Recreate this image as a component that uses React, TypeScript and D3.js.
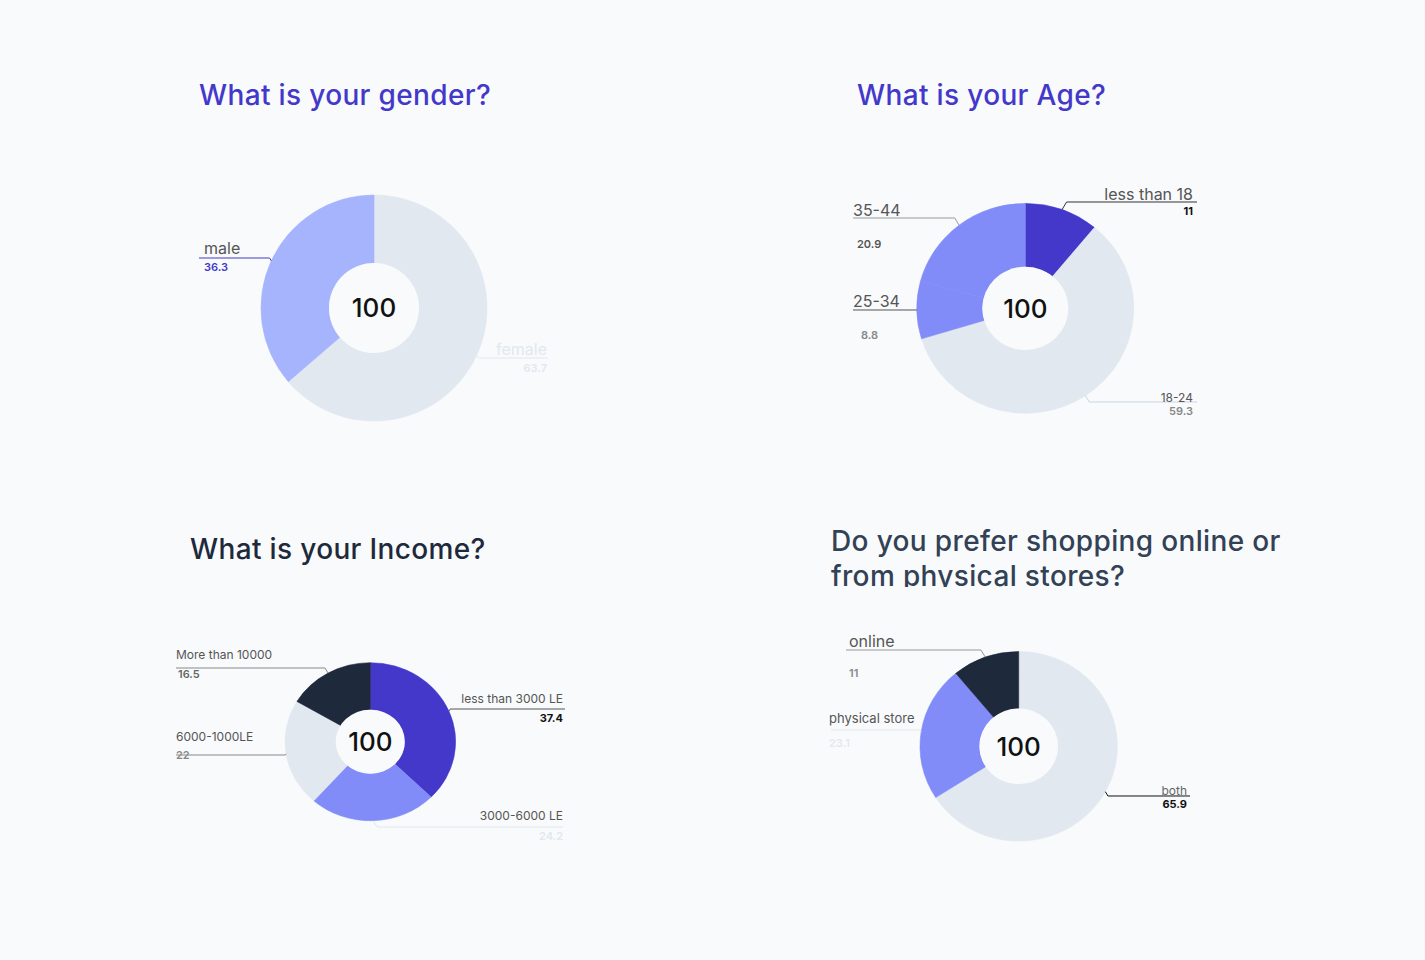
import React from "react";
import * as d3 from "d3";

// survey answers (percent)
const genderLabels = ["female", "male"];
const genderValues = [63.7, 36.3];

const ageLabels = ["less than 18", "18-24", "25-34", "35-44"];
const ageValues = [11, 59.3, 8.8, 20.9];

const incomeLabels = ["less than 3000 LE", "3000-6000 LE", "6000-1000LE", "More than 10000"];
const incomeValues = [37.4, 24.2, 22, 16.5];

const shopLabels = ["both", "physical store", "online"];
const shopValues = [65.9, 23.1, 11];

const INDIGO_DARK = "#4338ca";
const INDIGO = "#818cf8";
const INDIGO_LIGHT = "#a5b4fc";
const SLATE_LIGHT = "#e2e8f0";
const SLATE_DARK = "#1e293b";
const FONT = "Inter, 'Noto Sans', sans-serif";

type LabelStyle = {
  lineY: number; // y of horizontal leader
  lineEnd: number; // x where horizontal leader ends
  side: "left" | "right";
  textX: number;
  nameY: number;
  valueY: number;
  valueX?: number;
  nameSize: number;
  nameColor: string;
  valueColor: string;
  valueWeight: number;
  lineColor: string;
};

type DonutProps = {
  labels: string[];
  values: number[];
  colors: string[];
  cx: number;
  cy: number;
  outer: number;
  inner: number;
  sy: number; // vertical squash
  styles: LabelStyle[];
};

const Donut = ({ labels, values, colors, cx, cy, outer, inner, sy, styles }: DonutProps) => {
  const pie = d3.pie<number>().sort(null).value((d) => d);
  const arcs = pie(values);
  const arc = d3.arc<d3.PieArcDatum<number>>().innerRadius(inner).outerRadius(outer);
  const total = d3.sum(values);

  return (
    <g transform={`translate(${cx},${cy})`}>
      <g transform={`scale(1,${sy})`}>
        {arcs.map((a, i) => (
          <path key={"s" + i} d={arc(a) || ""} fill={colors[i]} stroke={colors[i]} strokeWidth={0.6} />
        ))}
        <circle r={inner} fill="#f8fafc" />
      </g>
      <text
        textAnchor="middle"
        dy="0.36em"
        fontSize={26}
        fontWeight={500}
        fill="#111"
        fontFamily={FONT}
      >
        {Math.round(total)}
      </text>
      {arcs.map((a, i) => {
        const s = styles[i];
        const mid = (a.startAngle + a.endAngle) / 2;
        const ax = outer * Math.sin(mid);
        const ay = -outer * Math.cos(mid) * sy;
        const ly = s.lineY - cy;
        const elbowX = s.side === "left" ? ax - Math.abs(ly - ay) * 0.6 : ax + Math.abs(ly - ay) * 0.6;
        const lineEnd = s.lineEnd - cx;
        const anchor = s.side === "left" ? "start" : "end";
        return (
          <g key={"l" + i}>
            <polyline
              points={`${ax},${ay} ${elbowX},${ly} ${lineEnd},${ly}`}
              fill="none"
              stroke={s.lineColor}
              strokeWidth={1}
            />
            <text
              x={s.textX - cx}
              y={s.nameY - cy}
              textAnchor={anchor}
              fontSize={s.nameSize}
              fill={s.nameColor}
              fontFamily={FONT}
            >
              {labels[i]}
            </text>
            <text
              x={(s.valueX ?? s.textX) - cx}
              y={s.valueY - cy}
              textAnchor={anchor}
              fontSize={11}
              fontWeight={s.valueWeight}
              fill={s.valueColor}
              fontFamily={FONT}
            >
              {values[i]}
            </text>
          </g>
        );
      })}
    </g>
  );
};

const genderStyles: LabelStyle[] = [
  { lineY: 358, lineEnd: 548, side: "right", textX: 547, nameY: 355, valueY: 372, nameSize: 16, nameColor: SLATE_LIGHT, valueColor: SLATE_LIGHT, valueWeight: 600, lineColor: SLATE_LIGHT },
  { lineY: 258, lineEnd: 199, side: "left", textX: 204, nameY: 254, valueY: 271, nameSize: 16, nameColor: "#555", valueColor: INDIGO_DARK, valueWeight: 600, lineColor: INDIGO_DARK },
];

const ageStyles: LabelStyle[] = [
  { lineY: 202, lineEnd: 1197, side: "right", textX: 1193, nameY: 200, valueY: 215, nameSize: 16, nameColor: "#555", valueColor: "#111", valueWeight: 700, lineColor: "#333" },
  { lineY: 402, lineEnd: 1197, side: "right", textX: 1193, nameY: 402, valueY: 415, nameSize: 12, nameColor: "#555", valueColor: "#888", valueWeight: 600, lineColor: "#cbd5e1" },
  { lineY: 310, lineEnd: 853, side: "left", textX: 853, nameY: 307, valueY: 339, valueX: 861, nameSize: 16, nameColor: "#555", valueColor: "#888", valueWeight: 600, lineColor: "#555" },
  { lineY: 218, lineEnd: 853, side: "left", textX: 853, nameY: 216, valueY: 248, valueX: 857, nameSize: 16, nameColor: "#555", valueColor: "#555", valueWeight: 600, lineColor: "#999" },
];

const incomeStyles: LabelStyle[] = [
  { lineY: 709, lineEnd: 565, side: "right", textX: 563, nameY: 703, valueY: 722, nameSize: 12, nameColor: "#555", valueColor: "#111", valueWeight: 700, lineColor: "#555" },
  { lineY: 827, lineEnd: 563, side: "right", textX: 563, nameY: 820, valueY: 840, nameSize: 12, nameColor: "#555", valueColor: SLATE_LIGHT, valueWeight: 600, lineColor: SLATE_LIGHT },
  { lineY: 755, lineEnd: 176, side: "left", textX: 176, nameY: 741, valueY: 759, nameSize: 12, nameColor: "#555", valueColor: "#888", valueWeight: 600, lineColor: "#888" },
  { lineY: 668, lineEnd: 176, side: "left", textX: 176, nameY: 659, valueY: 678, valueX: 178, nameSize: 12, nameColor: "#555", valueColor: "#666", valueWeight: 600, lineColor: "#888" },
];

const shopStyles: LabelStyle[] = [
  { lineY: 796, lineEnd: 1190, side: "right", textX: 1187, nameY: 795, valueY: 808, nameSize: 12, nameColor: "#666", valueColor: "#111", valueWeight: 700, lineColor: "#111" },
  { lineY: 730, lineEnd: 831, side: "left", textX: 829, nameY: 723, valueY: 747, nameSize: 13, nameColor: "#555", valueColor: SLATE_LIGHT, valueWeight: 600, lineColor: SLATE_LIGHT },
  { lineY: 650, lineEnd: 846, side: "left", textX: 849, nameY: 647, valueY: 677, nameSize: 16, nameColor: "#555", valueColor: "#888", valueWeight: 600, lineColor: "#999" },
];

const Title = ({ x, y, color, lines }: { x: number; y: number; color: string; lines: string[] }) => (
  <text x={x} y={y} fill={color} fontSize={28} fontWeight={500} fontFamily={FONT} letterSpacing={0.35}>
    {lines.map((l, i) => (
      <tspan key={i} x={x} dy={i === 0 ? 0 : 35}>
        {l}
      </tspan>
    ))}
  </text>
);

export default function App() {
  return (
    <div style={{ position: "absolute", left: 0, top: 0 }}>
      <svg width={1425} height={960} style={{ display: "block", background: "#f8fafc" }}>
        <defs>
          <clipPath id="shopClip">
            <rect x={820} y={500} width={500} height={87} />
          </clipPath>
        </defs>
        <Title x={199} y={105} color={INDIGO_DARK} lines={["What is your gender?"]} />
        <Title x={857} y={105} color={INDIGO_DARK} lines={["What is your Age?"]} />
        <Title x={190} y={559} color={SLATE_DARK} lines={["What is your Income?"]} />
        <g clipPath="url(#shopClip)">
          <Title x={831} y={551} color="#334155" lines={["Do you prefer shopping online or", "from physical stores?"]} />
        </g>

        <Donut labels={genderLabels} values={genderValues} colors={[SLATE_LIGHT, INDIGO_LIGHT]} cx={374} cy={308} outer={113} inner={45} sy={1} styles={genderStyles} />
        <Donut labels={ageLabels} values={ageValues} colors={[INDIGO_DARK, SLATE_LIGHT, INDIGO, INDIGO]} cx={1025.3} cy={308.3} outer={108.5} inner={43} sy={0.967} styles={ageStyles} />
        <Donut labels={incomeLabels} values={incomeValues} colors={[INDIGO_DARK, INDIGO, SLATE_LIGHT, SLATE_DARK]} cx={370.3} cy={741.7} outer={85.3} inner={34.5} sy={0.926} styles={incomeStyles} />
        <Donut labels={shopLabels} values={shopValues} colors={[SLATE_LIGHT, INDIGO, SLATE_DARK]} cx={1018.7} cy={746.3} outer={98.7} inner={39.3} sy={0.96} styles={shopStyles} />
      </svg>
    </div>
  );
}
